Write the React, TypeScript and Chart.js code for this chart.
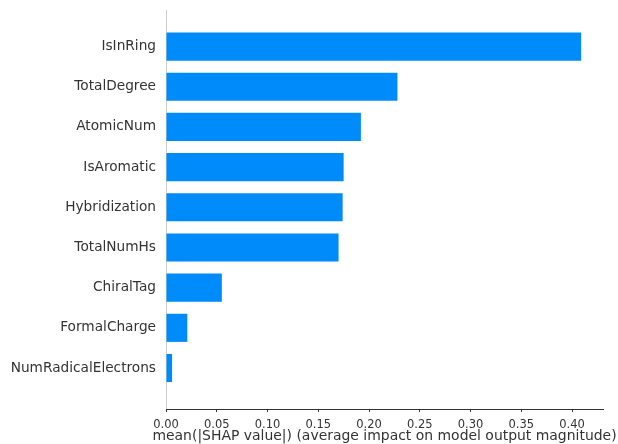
import React, { useEffect, useRef } from "react";
import { Chart, registerables } from "chart.js";

Chart.register(...registerables);

const features = [
  "IsInRing",
  "TotalDegree",
  "AtomicNum",
  "IsAromatic",
  "Hybridization",
  "TotalNumHs",
  "ChiralTag",
  "FormalCharge",
  "NumRadicalElectrons",
];
const meanAbsShap = [0.409, 0.228, 0.192, 0.175, 0.174, 0.17, 0.055, 0.021, 0.006];
const xTicks = [0, 0.05, 0.1, 0.15, 0.2, 0.25, 0.3, 0.35, 0.4];
const xTitle = "mean(|SHAP value|) (average impact on model output magnitude)";

const FONT = "'DejaVu Sans', sans-serif";

const xTitlePlugin = {
  id: "xTitlePlugin",
  afterDraw(chart: any) {
    const { ctx, chartArea } = chart;
    ctx.save();
    ctx.font = `13.95px ${FONT}`;
    ctx.fillStyle = "#333333";
    ctx.textAlign = "center";
    ctx.textBaseline = "middle";
    ctx.fillText(xTitle, (chartArea.left + chartArea.right) / 2, 436.5);
    ctx.restore();
  },
};

export default function App() {
  const ref = useRef<HTMLCanvasElement>(null);
  useEffect(() => {
    if (!ref.current) return;
    const chart = new Chart(ref.current, {
      type: "bar",
      data: {
        datasets: [
          {
            data: meanAbsShap.map((v, i) => ({ x: v, y: i })),
            backgroundColor: "#008bfb",
            borderWidth: 0,
            barPercentage: 0.7,
            categoryPercentage: 1,
          },
        ],
      },
      plugins: [xTitlePlugin],
      options: {
        indexAxis: "y",
        animation: false,
        responsive: false,
        devicePixelRatio: 1,
        layout: { padding: { top: 10, right: 15, left: 0, bottom: 0 } },
        plugins: { legend: { display: false }, tooltip: { enabled: false } },
        scales: {
          y: {
            type: "linear",
            min: -0.91,
            max: 9.02,
            offset: false,
            reverse: true,
            afterBuildTicks: (s: any) => {
              s.ticks = features.map((_, i) => ({ value: i }));
            },
            afterFit: (s: any) => {
              s.width = 166;
              s.paddingTop = 0;
              s.paddingBottom = 0;
            },
            ticks: {
              callback: (v: any) => features[v as number] ?? "",
              color: "#333333",
              font: { family: FONT, size: 13.7 },
              padding: 10,
              autoSkip: false,
            },
            grid: { display: false, drawTicks: false },
            border: { display: true, color: "#cccccc", width: 1 },
          },
          x: {
            type: "linear",
            min: 0,
            max: 0.4305,
            afterBuildTicks: (s: any) => {
              s.ticks = xTicks.map((v) => ({ value: v }));
            },
            afterFit: (s: any) => {
              s.height = 35;
            },
            ticks: {
              callback: (v: any) => Number(v).toFixed(2),
              color: "#333333",
              font: { family: FONT, size: 11.5 },
              padding: 6,
              maxRotation: 0,
            },
            grid: {
              drawOnChartArea: false,
              drawTicks: true,
              tickLength: 3,
              color: "#333333",
            },
            border: { display: true, color: "#333333", width: 1 },
          },
        },
      },
    });
    return () => chart.destroy();
  }, []);
  return (
    <div style={{ position: "absolute", left: 0, top: 0, width: 618, height: 444, background: "#fff" }}>
      <canvas ref={ref} width={618} height={444} style={{ width: 618, height: 444 }} />
    </div>
  );
}
